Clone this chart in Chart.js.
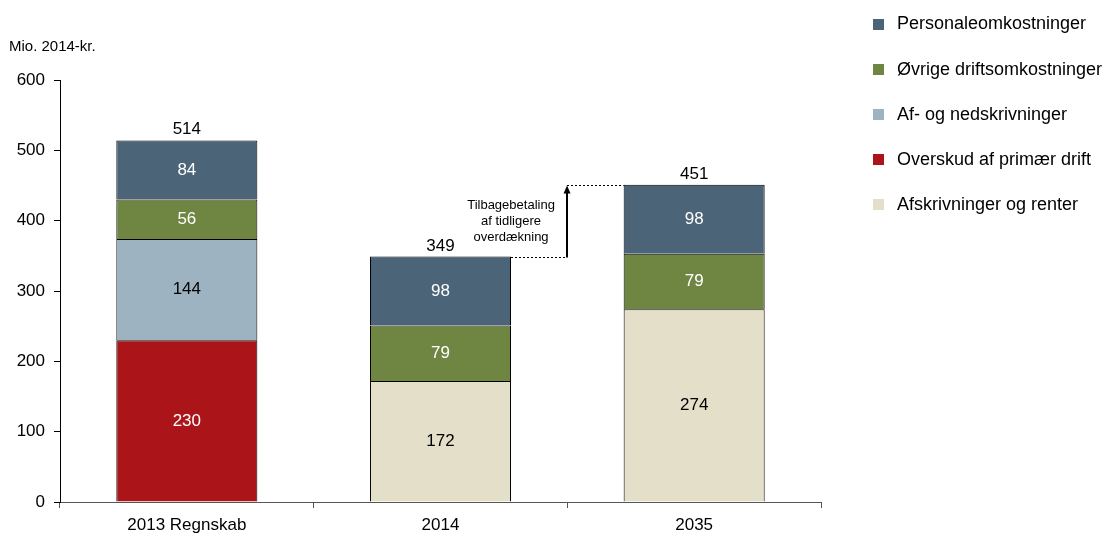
<!DOCTYPE html>
<html>
<head>
<meta charset="utf-8">
<script src="https://cdn.jsdelivr.net/npm/chart.js@4.4.0/dist/chart.umd.min.js"></script>
<style>
  html, body { margin: 0; padding: 0; background: #fff; }
  #wrap { width: 1111px; height: 536px; position: relative; }
</style>
</head>
<body>
<div id="wrap"><canvas id="chart"></canvas></div>
<script>
const categories = ["2013 Regnskab", "2014", "2035"];

// stakke nedefra og op
const afskrivningerRenter = [null, 172, 274];
const overskudPrimaer = [230, null, null];
const afOgNedskrivninger = [144, null, null];
const oevrigeDrift = [56, 79, 79];
const personale = [84, 98, 98];

const yTicks = [0, 100, 200, 300, 400, 500, 600];
const enhed = "Mio. 2014-kr.";
const noteLinjer = ["Tilbagebetaling", "af tidligere", "overdækning"];

const FONT = "'Liberation Sans', Arial, sans-serif";

const datasets = [
  { label: "Afskrivninger og renter", data: afskrivningerRenter, backgroundColor: "#e4dfc9", labelColor: "#000" },
  { label: "Overskud af primær drift", data: overskudPrimaer, backgroundColor: "#ab1519", labelColor: "#fff" },
  { label: "Af- og nedskrivninger", data: afOgNedskrivninger, backgroundColor: "#9eb3c2", labelColor: "#000" },
  { label: "Øvrige driftsomkostninger", data: oevrigeDrift, backgroundColor: "#6f8542", labelColor: "#fff" },
  { label: "Personaleomkostninger", data: personale, backgroundColor: "#4b6478", labelColor: "#fff" }
].map(ds => ({
  ...ds,
  borderColor: "#000",
  borderWidth: 1,
  borderSkipped: "start",
  categoryPercentage: 1,
  barPercentage: 0.556
}));

function totaler() {
  return categories.map((_, i) => datasets.reduce((s, ds) => s + (ds.data[i] || 0), 0));
}

// værdier i segmenterne, totaler over søjlerne og note med pil
const labelPlugin = {
  id: "labels",
  afterDatasetsDraw(chart) {
    const ctx = chart.ctx;
    const yScale = chart.scales.y;
    const xScale = chart.scales.x;
    ctx.save();
    ctx.font = "17px " + FONT;
    ctx.textAlign = "center";
    ctx.textBaseline = "middle";

    chart.data.datasets.forEach((ds, di) => {
      const meta = chart.getDatasetMeta(di);
      meta.data.forEach((bar, i) => {
        if (ds.data[i] == null) return;
        ctx.fillStyle = ds.labelColor;
        ctx.fillText(String(ds.data[i]), bar.x, (bar.y + bar.base) / 2);
      });
    });

    const sum = totaler();
    ctx.fillStyle = "#000";
    ctx.textBaseline = "alphabetic";
    sum.forEach((v, i) => {
      ctx.fillText(String(v), xScale.getPixelForValue(i), yScale.getPixelForValue(v) - 6);
    });

    // note mellem 2014 og 2035
    const meta = chart.getDatasetMeta(datasets.length - 1);
    const b1 = meta.data[1];
    const b2 = meta.data[2];
    const right1 = b1.x + b1.width / 2;
    const left2 = b2.x - b2.width / 2;
    const pilX = Math.round((xScale.getPixelForValue(1) + xScale.getPixelForValue(2)) / 2);
    const yLav = Math.round(yScale.getPixelForValue(sum[1])) + 0.5;
    const yHoj = Math.round(yScale.getPixelForValue(sum[2])) + 0.5;

    ctx.strokeStyle = "#000";
    ctx.lineWidth = 1;
    ctx.setLineDash([2, 2]);
    ctx.beginPath();
    ctx.moveTo(right1, yLav);
    ctx.lineTo(pilX, yLav);
    ctx.moveTo(pilX, yHoj);
    ctx.lineTo(left2, yHoj);
    ctx.stroke();

    ctx.setLineDash([]);
    ctx.lineWidth = 2;
    ctx.beginPath();
    ctx.moveTo(pilX, yLav);
    ctx.lineTo(pilX, yHoj + 6);
    ctx.stroke();
    ctx.fillStyle = "#000";
    ctx.beginPath();
    ctx.moveTo(pilX, yHoj);
    ctx.lineTo(pilX - 3.5, yHoj + 8);
    ctx.lineTo(pilX + 3.5, yHoj + 8);
    ctx.closePath();
    ctx.fill();

    ctx.font = "13px " + FONT;
    ctx.textBaseline = "middle";
    noteLinjer.forEach((t, k) => {
      ctx.fillText(t, right1, 205 + k * 16);
    });

    // enhed over y-aksen
    ctx.textAlign = "left";
    ctx.font = "15px " + FONT;
    ctx.fillText(enhed, 9, 47);
    ctx.restore();
  }
};

// forklaring i højre side, øverste stak først
const legendPlugin = {
  id: "sideLegend",
  afterDraw(chart) {
    const ctx = chart.ctx;
    ctx.save();
    ctx.font = "18px " + FONT;
    ctx.textAlign = "left";
    ctx.textBaseline = "middle";
    const items = chart.data.datasets.slice().reverse();
    items.forEach((ds, k) => {
      const y = 24.5 + k * 45.1;
      ctx.fillStyle = ds.backgroundColor;
      ctx.fillRect(873, Math.round(y - 5.5), 11, 11);
      ctx.fillStyle = "#000";
      ctx.fillText(ds.label, 897, y);
    });
    ctx.restore();
  }
};

new Chart(document.getElementById("chart"), {
  type: "bar",
  data: { labels: categories, datasets: datasets },
  options: {
    responsive: true,
    maintainAspectRatio: false,
    animation: false,
    layout: { padding: { left: 10, right: 290, top: 80, bottom: 0 } },
    plugins: {
      legend: { display: false },
      tooltip: { enabled: false }
    },
    scales: {
      x: {
        stacked: true,
        offset: true,
        afterFit(scale) { scale.height = 34; },
        grid: {
          offset: true,
          drawOnChartArea: false,
          drawTicks: true,
          tickLength: 6,
          color: "#555"
        },
        border: { display: true, color: "#555", width: 1 },
        ticks: {
          color: "#000",
          padding: 7,
          font: { family: FONT, size: 17 },
          maxRotation: 0
        }
      },
      y: {
        stacked: true,
        min: 0,
        max: 600,
        afterFit(scale) { scale.width = 50; },
        afterBuildTicks(scale) { scale.ticks = yTicks.map(v => ({ value: v })); },
        grid: {
          drawOnChartArea: false,
          drawTicks: true,
          tickLength: 6,
          color: "#000"
        },
        border: { display: true, color: "#000", width: 1 },
        ticks: {
          color: "#000",
          padding: 9,
          font: { family: FONT, size: 17 }
        }
      }
    }
  },
  plugins: [labelPlugin, legendPlugin]
});
</script>
</body>
</html>
